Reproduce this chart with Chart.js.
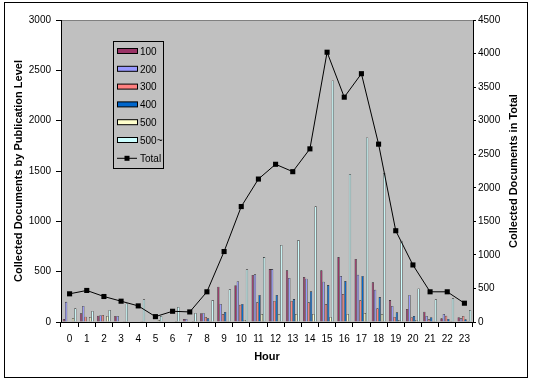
<!DOCTYPE html>
<html>
<head>
<meta charset="utf-8">
<script src="https://cdn.jsdelivr.net/npm/chart.js@4"></script>
<style>
  body { margin: 0; background: #fff; }
  canvas { display: block; }
</style>
</head>
<body>
<canvas id="barChart" width="534" height="381"></canvas>
<script>
var hours = ["0", "1", "2", "3", "4", "5", "6", "7", "8", "9", "10", "11",
  "12", "13", "14", "15", "16", "17", "18", "19", "20", "21", "22", "23"];

// documents per publication level
var level100 = [30, 86, 63, 60, 5, 0, 5, 30, 87, 350, 365, 467, 526, 513, 447, 513, 645, 626, 394, 218, 130, 102, 37, 47];
var level200 = [200, 160, 67, 60, 0, 0, 0, 30, 90, 180, 405, 474, 526, 437, 430, 400, 457, 470, 321, 159, 268, 60, 80, 37];
var level300 = [0, 53, 70, 0, 0, 0, 0, 0, 50, 80, 172, 195, 209, 209, 195, 180, 278, 215, 136, 50, 47, 27, 63, 60];
var level400 = [0, 0, 0, 0, 0, 0, 0, 0, 37, 100, 180, 268, 268, 228, 305, 367, 407, 457, 248, 96, 60, 47, 30, 27];
var level500 = [40, 50, 60, 10, 10, 20, 10, 10, 10, 10, 20, 80, 80, 80, 80, 50, 80, 90, 80, 20, 20, 10, 10, 10];
var level500up = [136, 110, 120, 185, 225, 60, 150, 90, 218, 325, 523, 645, 765, 814, 1149, 2400, 1470, 1834, 1480, 807, 334, 225, 235, 119];

var totals = [420, 470, 380, 310, 240, 80, 160, 150, 450, 1050, 1720, 2130, 2350, 2240, 2580, 4020, 3350, 3700, 2650, 1360, 850, 450, 450, 280];

var fontName = "'Liberation Sans', Arial, sans-serif";

function barSet(label, data, color) {
  return {
    type: "bar",
    label: label,
    data: data,
    backgroundColor: color,
    borderColor: "#222",
    borderWidth: 0.6,
    categoryPercentage: 0.8,
    barPercentage: 1.0,
    yAxisID: "y",
    order: 1,
  };
}

// gray plot area, frame, axis titles and the boxed legend
var excelLook = {
  id: "excelLook",
  beforeDraw: function (chart) {
    var ctx = chart.ctx;
    var a = chart.chartArea;
    ctx.save();
    ctx.fillStyle = "#C0C0C0";
    ctx.fillRect(a.left, a.top, a.right - a.left, a.bottom - a.top);
    ctx.strokeStyle = "#808080";
    ctx.lineWidth = 1;
    ctx.beginPath();
    ctx.moveTo(a.left, a.top + 0.5);
    ctx.lineTo(a.right, a.top + 0.5);
    ctx.stroke();
    ctx.restore();
  },
  afterDraw: function (chart) {
    var ctx = chart.ctx;
    var a = chart.chartArea;
    ctx.save();
    // outer frame
    ctx.strokeStyle = "#000";
    ctx.lineWidth = 1;
    ctx.strokeRect(4.5, 2.5, 523, 375);

    // axis titles
    ctx.fillStyle = "#000";
    ctx.font = "bold 11px " + fontName;
    ctx.textAlign = "center";
    ctx.textBaseline = "middle";
    ctx.fillText("Hour", (a.left + a.right) / 2, 357);

    var midY = (a.top + a.bottom) / 2;
    ctx.save();
    ctx.translate(19, midY);
    ctx.rotate(-Math.PI / 2);
    ctx.fillText("Collected Documents by Publication Level", 0, 0);
    ctx.restore();

    ctx.save();
    ctx.translate(514, midY);
    ctx.rotate(-Math.PI / 2);
    ctx.fillText("Collected Documents in Total", 0, 0);
    ctx.restore();

    // legend box
    var lx = 113.5, ly = 41.5, lw = 50, lh = 127;
    ctx.fillStyle = "#C0C0C0";
    ctx.fillRect(lx, ly, lw, lh);
    ctx.strokeStyle = "#000";
    ctx.strokeRect(lx, ly, lw, lh);

    ctx.font = "10px " + fontName;
    ctx.textAlign = "left";
    var sets = chart.data.datasets;
    for (var i = 0; i < sets.length; i++) {
      var d = sets[i];
      var cy = 51 + i * 17.8;
      if (d.type === "bar") {
        ctx.fillStyle = d.backgroundColor;
        ctx.fillRect(117.5, cy - 2.5, 20, 5);
        ctx.strokeStyle = "#000";
        ctx.strokeRect(117.5, cy - 2.5, 20, 5);
      } else {
        ctx.strokeStyle = "#000";
        ctx.beginPath();
        ctx.moveTo(117, cy + 0.5);
        ctx.lineTo(137, cy + 0.5);
        ctx.stroke();
        ctx.fillStyle = "#000";
        ctx.fillRect(124.5, cy - 2, 5, 5);
      }
      ctx.fillStyle = "#000";
      ctx.fillText(d.label, 140, cy + 1);
    }
    ctx.restore();
  },
};

function plainNumber(value) {
  return String(value);
}

var ctx = document.getElementById("barChart").getContext("2d");

var myChart = new Chart(ctx, {
  data: {
    labels: hours,
    datasets: [
      barSet("100", level100, "#993366"),
      barSet("200", level200, "#9999FF"),
      barSet("300", level300, "#FF8080"),
      barSet("400", level400, "#0066CC"),
      barSet("500", level500, "#FFFFCC"),
      barSet("500~", level500up, "#CCFFFF"),
      {
        type: "line",
        label: "Total",
        data: totals,
        borderColor: "#000",
        borderWidth: 1,
        backgroundColor: "#000",
        pointStyle: "rect",
        pointRadius: 3.6,
        pointBackgroundColor: "#000",
        pointBorderWidth: 0,
        tension: 0,
        yAxisID: "y2",
        order: 0,
      },
    ],
  },
  options: {
    responsive: false,
    animation: false,
    layout: { padding: { top: 20, left: 0, right: 0, bottom: 0 } },
    plugins: {
      legend: { display: false },
      tooltip: { enabled: false },
    },
    scales: {
      x: {
        offset: true,
        grid: {
          offset: true,
          drawOnChartArea: false,
          drawTicks: true,
          tickLength: 5,
          color: "#000",
        },
        border: { color: "#000", width: 1 },
        ticks: {
          color: "#000",
          padding: 6,
          maxRotation: 0,
          autoSkip: false,
          font: { family: fontName, size: 10 },
        },
        afterFit: function (s) { s.height = 59; },
      },
      y: {
        position: "left",
        min: 0,
        max: 3000,
        grid: { drawOnChartArea: false, tickLength: 5, color: "#000" },
        border: { color: "#000", width: 1 },
        ticks: {
          stepSize: 500,
          color: "#000",
          padding: 5,
          callback: plainNumber,
          font: { family: fontName, size: 10 },
        },
        afterFit: function (s) { s.width = 61; },
      },
      y2: {
        position: "right",
        min: 0,
        max: 4500,
        grid: { drawOnChartArea: false, tickLength: 3, color: "#000" },
        border: { color: "#000", width: 1 },
        ticks: {
          stepSize: 500,
          color: "#000",
          padding: 2,
          callback: plainNumber,
          font: { family: fontName, size: 10 },
        },
        afterFit: function (s) { s.width = 61; },
      },
    },
  },
  plugins: [excelLook],
});
</script>
</body>
</html>
